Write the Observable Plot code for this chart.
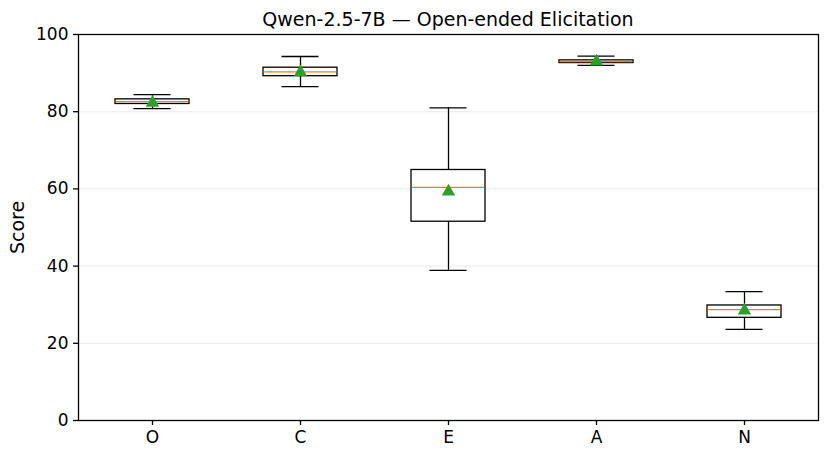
<!DOCTYPE html>
<html>
<head>
<meta charset="utf-8">
<script src="https://cdn.jsdelivr.net/npm/d3@7"></script>
<script src="https://cdn.jsdelivr.net/npm/@observablehq/plot@0.6"></script>
<style>
  body { margin: 0; background: #fff; font-family: "DejaVu Sans", sans-serif; position: relative; }
  #title { position: absolute; top: 7px; left: 78px; width: 740px; line-height: 24px; font-size: 19px; text-align: center; color: #000; }
  #chart { padding-top: 22px; }
</style>
</head>
<body>
<div id="title">Qwen-2.5-7B — Open-ended Elicitation</div>
<div id="chart"></div>
<script>
const traits   = ["O", "C", "E", "A", "N"];
const whiskLo  = [80.8, 86.5, 38.9, 92.0, 23.6];
const q1       = [82.0, 89.2, 51.5, 92.6, 26.6];
const median   = [82.6, 90.3, 60.4, 93.0, 28.7];
const q3       = [83.2, 91.4, 64.9, 93.3, 29.8];
const whiskHi  = [84.4, 94.3, 81.0, 94.4, 33.4];
const means    = [82.3, 90.2, 59.3, 93.0, 28.5];
const yTicks   = [0, 20, 40, 60, 80, 100];

const data = traits.map((t, i) => ({
  t, lo: whiskLo[i], q1: q1[i], med: median[i], q3: q3[i], hi: whiskHi[i], mean: means[i]
}));

const W = 828, H = 436, ML = 78, MR = 10, MT = 12, MB = 38;
const band = (W - ML - MR) / traits.length;
const sw = 1.3;

const chart = Plot.plot({
  width: W, height: H,
  marginLeft: ML, marginRight: MR, marginTop: MT, marginBottom: MB,
  style: { fontFamily: "DejaVu Sans, sans-serif", fontSize: "17px", color: "#000", background: "#fff", overflow: "visible" },
  x: { domain: traits, padding: 0, label: null },
  y: { domain: [0, 100], label: null },
  marks: [
    Plot.gridY([20, 40, 60, 80], { stroke: "#e6e6e6", strokeOpacity: 1, strokeWidth: 0.8 }),
    Plot.ruleX(data, { x: "t", y1: "q3", y2: "hi", stroke: "#000", strokeWidth: sw }),
    Plot.ruleX(data, { x: "t", y1: "lo", y2: "q1", stroke: "#000", strokeWidth: sw }),
    Plot.tickY(data, { x: "t", y: "hi", stroke: "#000", strokeWidth: sw, inset: band * 0.375 }),
    Plot.tickY(data, { x: "t", y: "lo", stroke: "#000", strokeWidth: sw, inset: band * 0.375 }),
    Plot.barY(data, { x: "t", y1: "q1", y2: "q3", fill: "#fff", stroke: "#000", strokeWidth: sw,
                      insetLeft: band * 0.25, insetRight: band * 0.25 }),
    Plot.tickY(data, { x: "t", y: "med", stroke: "#ff7f0e", strokeWidth: sw, inset: band * 0.25 + 0.7 }),
    Plot.dot(data, { x: "t", y: "mean", symbol: "triangle", fill: "#2ca02c", stroke: null, r: 5 }),
    Plot.frame({ stroke: "#000", strokeWidth: sw }),
    Plot.axisY({ ticks: yTicks, tickSize: 5, tickPadding: 5, tickFormat: d => String(d), fontSize: "17px", strokeWidth: sw,
                 label: "Score", labelAnchor: "center", labelArrow: "none", labelOffset: 68 }),
    Plot.axisX({ tickSize: 5, tickPadding: 5, fontSize: "17px", strokeWidth: sw, label: null })
  ]
});
document.getElementById("chart").appendChild(chart);
chart.querySelectorAll("g[aria-label='y-axis label'] text").forEach(t => t.setAttribute("font-size", "19px"));
</script>
</body>
</html>
